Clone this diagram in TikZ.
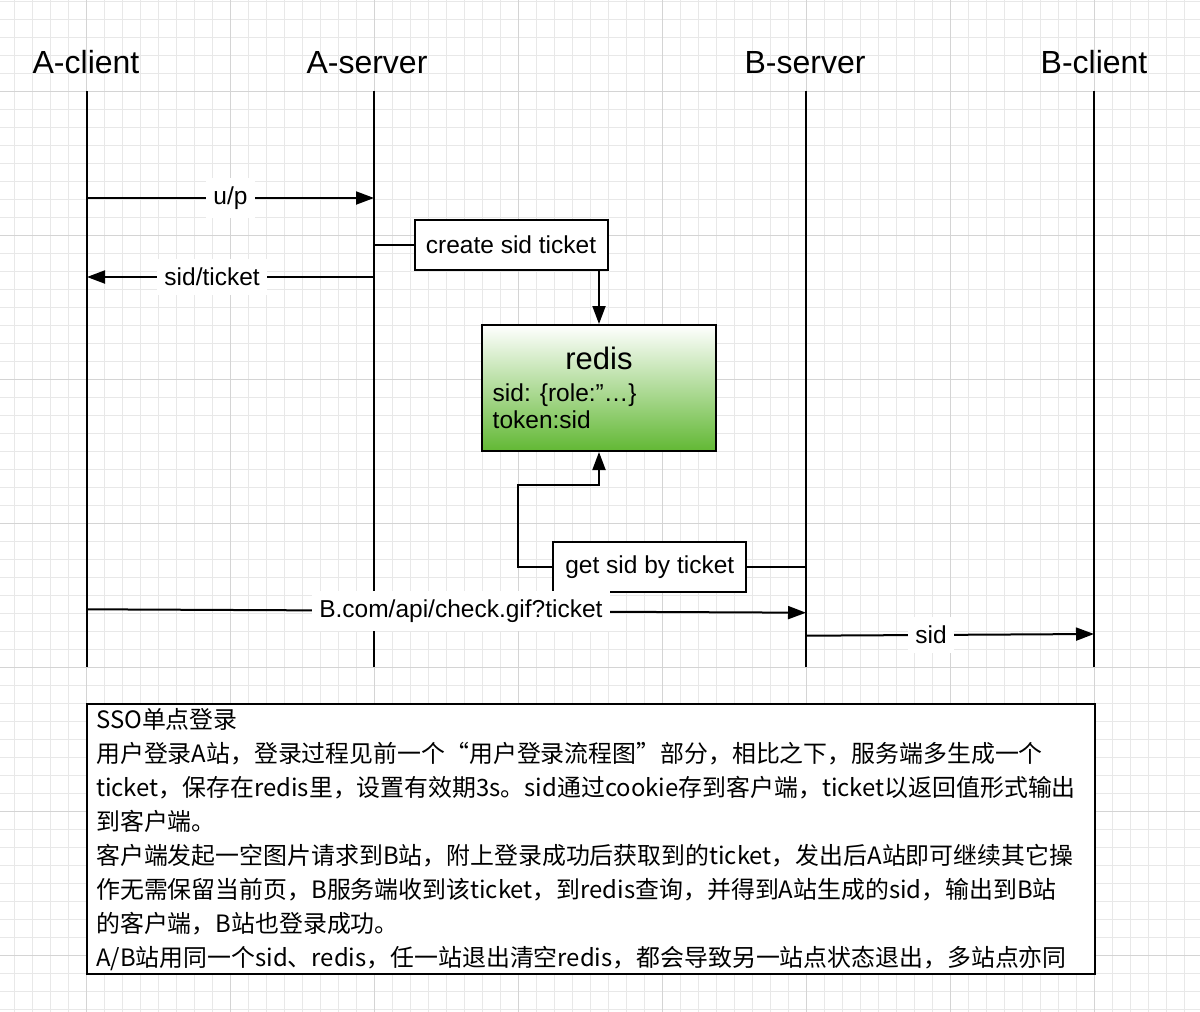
\documentclass[tikz,border=0pt]{standalone}
\usepackage{fontspec}
\setmainfont{Liberation Sans}
\newfontfamily\cjk{Noto Sans CJK SC}
\usetikzlibrary{arrows.meta}
\definecolor{gridminor}{RGB}{232,232,232}
\definecolor{gridmajor}{RGB}{212,212,212}
\definecolor{redisgreen}{RGB}{98,184,52}
\begin{document}
\begin{tikzpicture}[x=1pt,y=-1pt,
  lifeline/.style={line width=2pt},
  msg/.style={line width=2pt,-{Triangle[length=18pt,width=13pt]}},
  link/.style={line width=2pt},
  msglabel/.style={fill=white,inner xsep=7pt,inner ysep=9pt,font=\fontsize{24.5}{28}\selectfont},
  title/.style={anchor=base,inner sep=0pt,font=\fontsize{32}{36}\selectfont},
  stepbox/.style={draw,line width=2pt,fill=white,font=\fontsize{24.5}{28}\selectfont,inner sep=0pt,minimum width=193pt,minimum height=50pt},
  gridline/.style={line width=1pt},
]
\useasboundingbox (0,0) rectangle (1200,1012);
\fill[white] (0,0) rectangle (1200,1012);
% grid
\foreach \i in {0,...,66} {\draw[gridline,gridminor] ({14.5+18*\i},0) -- ({14.5+18*\i},1012);}
\foreach \j in {0,...,56} {\draw[gridline,gridminor] (0,{1+18*\j}) -- (1200,{1+18*\j});}
\foreach \i in {0,...,7} {\draw[gridline,gridmajor] ({86.5+144*\i},0) -- ({86.5+144*\i},1012);}
\foreach \j in {0,...,6} {\draw[gridline,gridmajor] (0,{91+144*\j}) -- (1200,{91+144*\j});}

% titles
\node[title] (tac) at (86,73) {A-client};
\node[title] (tas) at (367,73) {A-server};
\node[title] (tbs) at (805,73) {B-server};
\node[title] (tbc) at (1094,73) {B-client};

% lifelines
\coordinate (ac-top) at (87,91);   \coordinate (ac-bot) at (87,667);
\coordinate (as-top) at (374,91);  \coordinate (as-bot) at (374,667);
\coordinate (bs-top) at (806,91);  \coordinate (bs-bot) at (806,667);
\coordinate (bc-top) at (1094,91); \coordinate (bc-bot) at (1094,667);
\draw[lifeline] (ac-top) -- (ac-bot);
\draw[lifeline] (as-top) -- (as-bot);
\draw[lifeline] (bs-top) -- (bs-bot);
\draw[lifeline] (bc-top) -- (bc-bot);

% u/p
\coordinate (ac-up) at (87,198); \coordinate (as-up) at (374,198);
\draw[msg] (ac-up) -- node[msglabel,pos=0.5] (lup) {u/p} (as-up);

% create sid ticket
\node[stepbox] (create) at (511,244.7) {create sid ticket};
\coordinate (as-create) at (374,244.7);
\draw[link] (as-create) -- (create.west);

% sid/ticket
\coordinate (as-st) at (374,277); \coordinate (ac-st) at (87,277);
\draw[msg] (as-st) -- node[msglabel,pos=0.564] (lst) {sid/ticket} (ac-st);

% redis
\node[draw,line width=2pt,top color=white,bottom color=redisgreen,minimum width=234pt,minimum height=126pt,inner sep=0pt] (redis) at (599,388) {};
\node[anchor=base,inner sep=0pt,font=\fontsize{31}{34}\selectfont] (redistitle) at (599,369) {redis};
\node[anchor=base west,inner sep=0pt,font=\fontsize{24.5}{28}\selectfont] (redisl1) at (492.5,401) {sid: \{role:”…\}};
\node[anchor=base west,inner sep=0pt,font=\fontsize{24.5}{28}\selectfont] (redisl2) at (492.5,428) {token:sid};
\draw[msg] (create.south -| redis.north) -- (redis.north);

% get sid by ticket
\node[stepbox] (get) at (649.8,566.7) {get sid by ticket};
\coordinate (bs-get) at (806,566.7);
\draw[link] (bs-get) -- (get.east);
\coordinate (loop) at (517.7,485);
\draw[msg] (get.west) -| (loop) -| (redis.south);

% check.gif
\coordinate (ac-chk) at (87,609.3); \coordinate (bs-chk) at (806,612.7);
\draw[msg] (ac-chk) -- node[msglabel,pos=0.52] (lchk) {B.com/api/check.gif?ticket} (bs-chk);

% sid
\coordinate (bs-sid) at (806,635.7); \coordinate (bc-sid) at (1094,634);
\draw[msg] (bs-sid) -- node[msglabel,pos=0.434] (lsid) {sid} (bc-sid);

% note
\node[draw,line width=2pt,fill=white,minimum width=1008pt,minimum height=270pt,inner sep=0pt,anchor=north west] (note) at (86,703) {};
\node[anchor=north west,inner sep=0pt,align=left,font=\cjk\fontsize{23.9}{34}\selectfont] (notetext) at (96,708) {%
SSO单点登录\\
用户登录A站，登录过程见前一个“用户登录流程图”部分，相比之下，服务端多生成一个\\
ticket，保存在redis里，设置有效期3s。sid通过cookie存到客户端，ticket以返回值形式输出\\
到客户端。\\
客户端发起一空图片请求到B站，附上登录成功后获取到的ticket，发出后A站即可继续其它操\\
作无需保留当前页，B服务端收到该ticket，到redis查询，并得到A站生成的sid，输出到B站\\
的客户端，B站也登录成功。\\
A/B站用同一个sid、redis，任一站退出清空redis，都会导致另一站点状态退出，多站点亦同};
\end{tikzpicture}
\end{document}
